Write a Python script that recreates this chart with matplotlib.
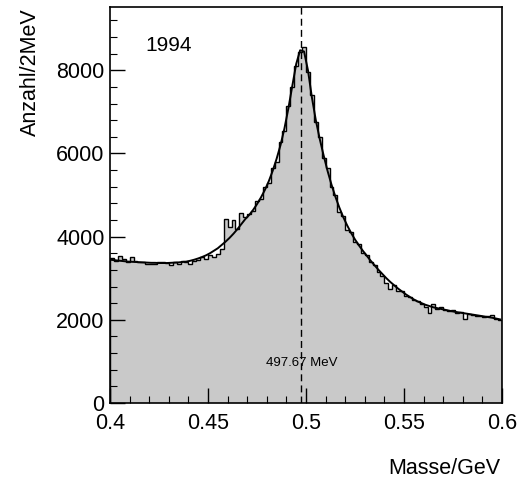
import numpy as np
import matplotlib.pyplot as plt
from matplotlib.ticker import MultipleLocator

plt.rcParams['font.family'] = ['Liberation Sans', 'DejaVu Sans']

# Histogram: 2 MeV bins from 0.400 to 0.600 GeV
bin_edges = np.linspace(0.4, 0.6, 101)
counts = [
    3480, 3420, 3530, 3450, 3390, 3520, 3410, 3380, 3400, 3340,
    3350, 3330, 3380, 3400, 3360, 3320, 3390, 3350, 3410, 3380,
    3340, 3410, 3440, 3500, 3470, 3560, 3520, 3570, 3700, 4420,
    4230, 4400, 4180, 4560, 4480, 4540, 4620, 4850, 4900, 5200,
    5300, 5660, 5800, 6280, 6550, 7150, 7600, 8100, 8450, 8560,
    7950, 7400, 6750, 6400, 5900, 5650, 5200, 5000, 4600, 4500,
    4150, 4100, 3880, 3820, 3600, 3560, 3380, 3320, 3150, 3050,
    2880, 2750, 2830, 2700, 2690, 2580, 2560, 2470, 2450, 2380,
    2300, 2170, 2380, 2260, 2300, 2240, 2210, 2230, 2170, 2180,
    2020, 2140, 2110, 2090, 2100, 2060, 2080, 2110, 2020, 2000,
]

# Fit curve read at the bin centres
fit_values = [
    3440, 3430, 3420, 3410, 3400, 3395, 3390, 3385, 3380, 3375,
    3370, 3370, 3365, 3365, 3365, 3370, 3375, 3380, 3390, 3400,
    3420, 3445, 3475, 3510, 3550, 3600, 3660, 3720, 3800, 3880,
    3970, 4070, 4180, 4300, 4420, 4520, 4640, 4780, 4940, 5120,
    5330, 5580, 5870, 6200, 6600, 7080, 7620, 8150, 8480, 8450,
    8000, 7350, 6800, 6350, 5950, 5580, 5250, 4960, 4700, 4470,
    4270, 4090, 3930, 3790, 3660, 3540, 3420, 3310, 3200, 3100,
    3000, 2910, 2830, 2750, 2680, 2610, 2550, 2490, 2440, 2400,
    2360, 2330, 2300, 2280, 2260, 2240, 2220, 2200, 2185, 2170,
    2155, 2140, 2125, 2110, 2095, 2080, 2065, 2050, 2030, 2010,
]

peak_mass = 0.49767
peak_label = "497.67 MeV"
year_label = "1994"

fig = plt.figure(figsize=(5.18, 4.83), dpi=100)
ax = fig.add_axes([110/518, 1-403/483, 392/518, 396/483])

centers = 0.5 * (bin_edges[:-1] + bin_edges[1:])
ax.stairs(counts, bin_edges, fill=True, color='#c9c9c9', zorder=1)
ax.stairs(counts, bin_edges, color='black', lw=1.0, zorder=2)
ax.plot(centers, fit_values, color='black', lw=1.4, zorder=3)

ax.axvline(peak_mass, color='black', lw=1.0, ls=(0, (5, 3)), zorder=4)
ax.text(peak_mass, 950, peak_label, ha='center', va='center', fontsize=9.5, zorder=5)
ax.text(0.418, 8600, year_label, ha='left', va='center', fontsize=15)

ax.set_xlim(0.4, 0.6)
ax.set_ylim(0, 9520)
ax.set_xticks([0.4, 0.45, 0.5, 0.55, 0.6])
ax.set_xticklabels(['0.4', '0.45', '0.5', '0.55', '0.6'])
ax.set_yticks([0, 2000, 4000, 6000, 8000])
ax.xaxis.set_minor_locator(MultipleLocator(0.01))
ax.yaxis.set_minor_locator(MultipleLocator(400))
ax.tick_params(which='major', direction='in', length=11, width=1.0, labelsize=15.5)
ax.tick_params(which='minor', direction='in', length=5, width=0.8)
ax.tick_params(axis='x', pad=7)
ax.tick_params(axis='y', pad=4)
for s in ax.spines.values():
    s.set_linewidth(1.2)

fig.text(30/518, 1-8/483, "Anzahl/2MeV", rotation=90, ha='center', va='top', fontsize=15.5)
fig.text(500/518, 1-468/483, "Masse/GeV", ha='right', va='center', fontsize=15.5)

fig.savefig('out.png', dpi=100)
